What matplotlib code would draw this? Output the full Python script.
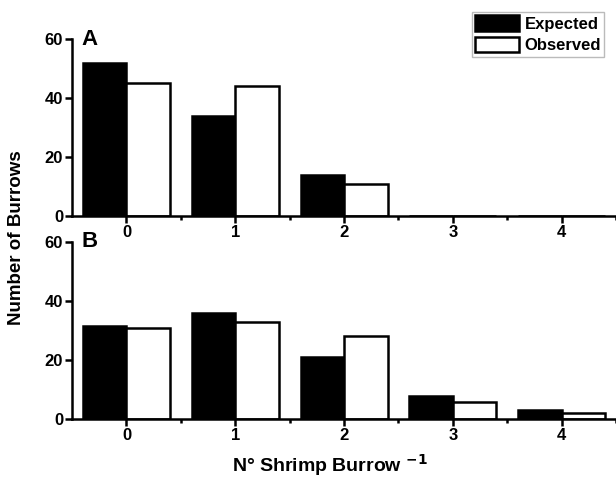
import numpy as np
import matplotlib.pyplot as plt

plt.rcParams['font.family'] = ['Liberation Sans', 'DejaVu Sans']
plt.rcParams['font.weight'] = 'bold'

# Data
burrows = np.array([0, 1, 2, 3, 4])
expected_a = [52, 34, 14, 0, 0]
observed_a = [45, 44, 11, 0, 0]
expected_b = [31.5, 36, 21, 8, 3]
observed_b = [31, 33, 28, 6, 2]

fig = plt.figure(figsize=(6.16, 4.82), dpi=100)
ax_a = fig.add_axes([0.117, 0.552, 0.883, 0.367])
ax_b = fig.add_axes([0.117, 0.130, 0.883, 0.3685])

w = 0.4
for ax, exp, obs, tag in [(ax_a, expected_a, observed_a, 'A'),
                          (ax_b, expected_b, observed_b, 'B')]:
    ax.bar(burrows - w / 2, exp, width=w, color='black', edgecolor='black',
           linewidth=1.8, label='Expected')
    ax.bar(burrows + w / 2, obs, width=w, color='white', edgecolor='black',
           linewidth=1.8, label='Observed')
    ax.set_xlim(-0.5, 4.5)
    ax.set_ylim(0, 60)
    ax.set_yticks([0, 20, 40, 60])
    ax.set_xticks(burrows)
    ax.set_xticks(burrows + 0.5, minor=True)
    ax.spines['top'].set_visible(False)
    ax.spines['right'].set_visible(False)
    for s in ['left', 'bottom']:
        ax.spines[s].set_linewidth(1.8)
    ax.tick_params(axis='both', which='major', direction='out', length=5,
                   width=1.8, labelsize=12, pad=1.5)
    ax.tick_params(axis='x', which='minor', direction='out', length=3, width=1.8)
    for lbl in ax.get_xticklabels() + ax.get_yticklabels():
        lbl.set_fontweight('bold')
    ax.text(0.018, 1.0, tag, transform=ax.transAxes, fontsize=16,
            fontweight='bold', va='center', ha='left')

leg = ax_a.legend(loc='upper right', bbox_to_anchor=(0.981, 0.975),
                  bbox_transform=fig.transFigure,
                  fontsize=12, frameon=True, fancybox=False,
                  handlelength=2.6, handleheight=1.05, handletextpad=0.35,
                  borderpad=0.2, labelspacing=0.3, borderaxespad=0)
leg.get_frame().set_edgecolor('#aaaaaa')
leg.get_frame().set_linewidth(1.0)
for t in leg.get_texts():
    t.set_fontweight('bold')

fig.text(0.027, 0.506, 'Number of Burrows', rotation=90, fontsize=13.5,
         fontweight='bold', ha='center', va='center')
fig.text(0.535, 0.035, r'N° Shrimp Burrow $^{\mathbf{-1}}$', fontsize=14,
         fontweight='bold', ha='center', va='center')

fig.savefig('out.png', dpi=100)
